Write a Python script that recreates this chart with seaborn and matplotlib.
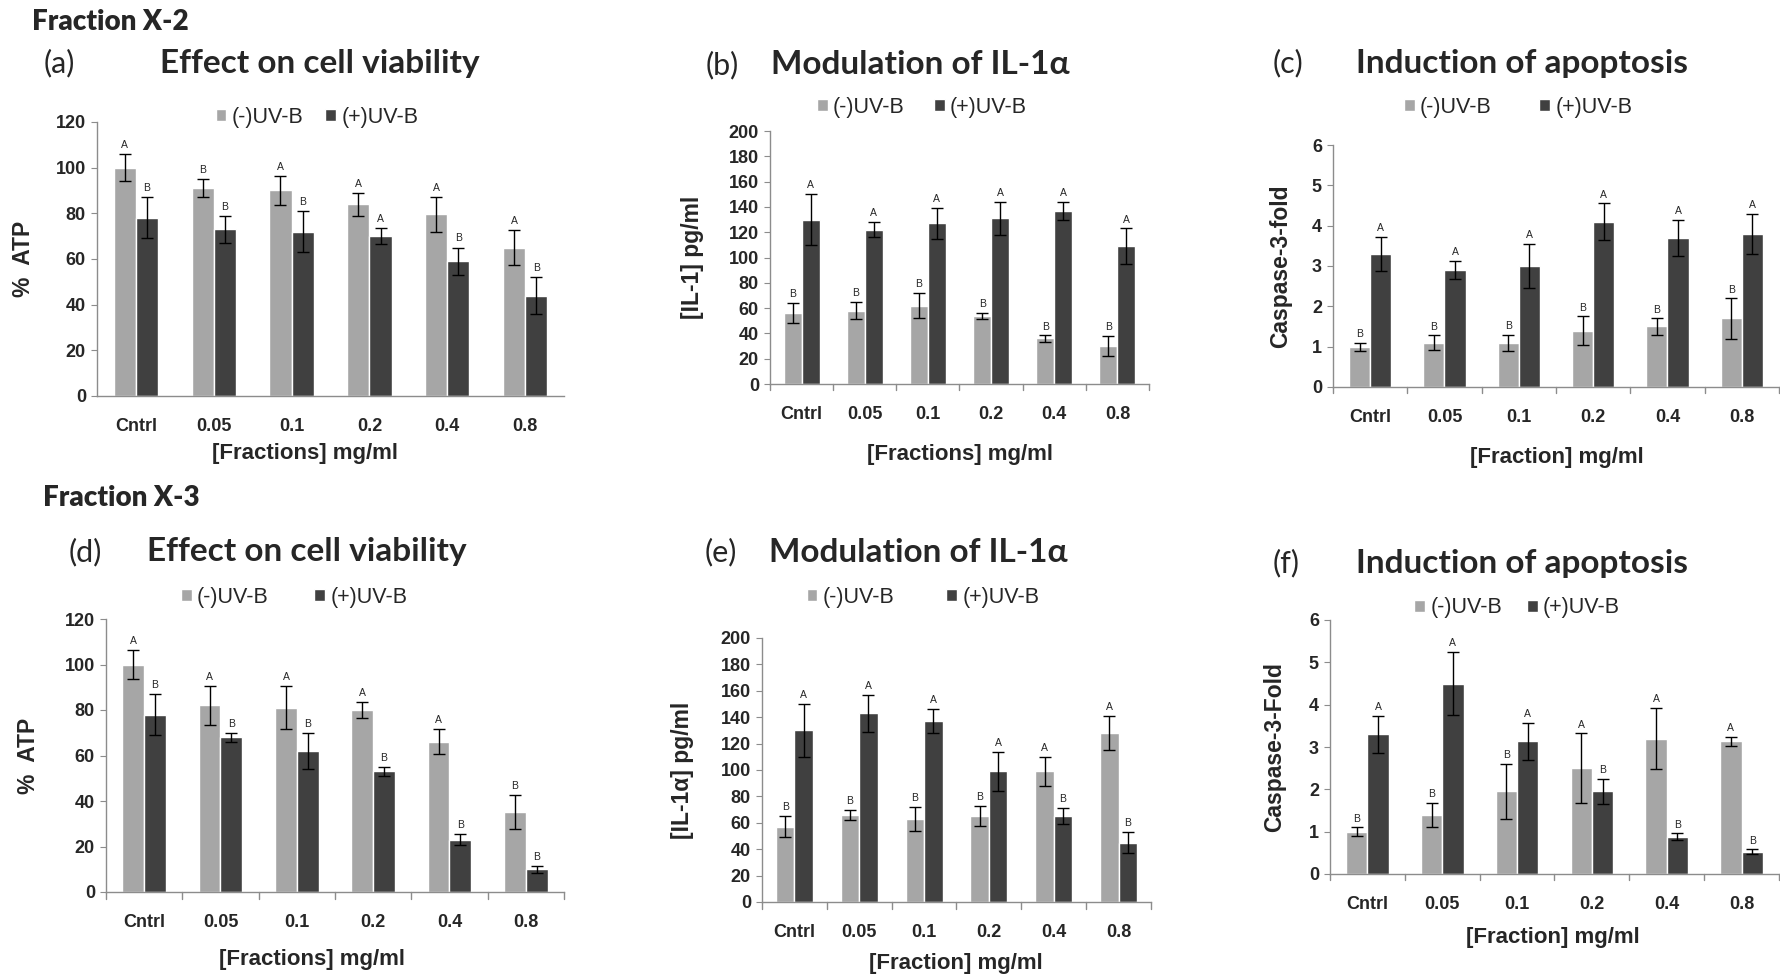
import numpy as np
import pandas as pd
import matplotlib
matplotlib.use('Agg')
import matplotlib.pyplot as plt
import seaborn as sns

sns.set_style('white')
plt.rcParams['font.family'] = ['Liberation Sans', 'DejaVu Sans']

# 浓度分组
conc_labels = ['Cntrl', '0.05', '0.1', '0.2', '0.4', '0.8']
groups = ['(-)UV-B', '(+)UV-B']

# (a) Fraction X-2 细胞活力
a_minus = [100, 91, 90, 84, 79.5, 65]
a_minus_err = [6, 4, 6.5, 5, 7.5, 7.5]
a_plus = [78, 73, 72, 70, 59, 44]
a_plus_err = [9, 6, 9, 3.5, 6, 8]
a_minus_sig = ['A', 'B', 'A', 'A', 'A', 'A']
a_plus_sig = ['B', 'B', 'B', 'A', 'B', 'B']

# (b) Fraction X-2 IL-1
b_minus = [56, 58, 62, 54, 36, 30]
b_minus_err = [8, 7, 10, 2.5, 2.5, 8]
b_plus = [130, 122, 127, 131, 137, 109]
b_plus_err = [20, 6, 12, 13, 7, 14]
b_minus_sig = ['B'] * 6
b_plus_sig = ['A'] * 6

# (c) Fraction X-2 caspase-3
c_minus = [1.0, 1.1, 1.1, 1.4, 1.5, 1.7]
c_minus_err = [0.1, 0.18, 0.2, 0.35, 0.2, 0.5]
c_plus = [3.3, 2.9, 3.0, 4.1, 3.7, 3.8]
c_plus_err = [0.43, 0.23, 0.55, 0.45, 0.45, 0.5]
c_minus_sig = ['B'] * 6
c_plus_sig = ['A'] * 6

# (d) Fraction X-3 细胞活力
d_minus = [100, 82, 81, 80, 66, 35]
d_minus_err = [6.5, 8.5, 9.5, 3.5, 5.5, 7.5]
d_plus = [78, 68, 62, 53, 23, 10]
d_plus_err = [9, 2, 8, 2, 2.5, 1.5]
d_minus_sig = ['A', 'A', 'A', 'A', 'A', 'B']
d_plus_sig = ['B'] * 6

# (e) Fraction X-3 IL-1α
e_minus = [57, 66, 63, 65, 99, 128]
e_minus_err = [8, 3.5, 9, 7.5, 11, 13]
e_plus = [130, 143, 137, 99, 65, 45]
e_plus_err = [20, 14, 9, 15, 6, 8]
e_minus_sig = ['B', 'B', 'B', 'B', 'A', 'A']
e_plus_sig = ['A', 'A', 'A', 'A', 'B', 'B']

# (f) Fraction X-3 caspase-3
f_minus = [1.0, 1.4, 1.95, 2.5, 3.2, 3.13]
f_minus_err = [0.1, 0.28, 0.65, 0.82, 0.73, 0.1]
f_plus = [3.3, 4.5, 3.13, 1.95, 0.88, 0.53]
f_plus_err = [0.43, 0.75, 0.43, 0.3, 0.08, 0.05]
f_minus_sig = ['B', 'B', 'B', 'A', 'A', 'A']
f_plus_sig = ['A', 'A', 'A', 'B', 'B', 'B']

W, H = 1781, 974
fig = plt.figure(figsize=(W / 100, H / 100), dpi=100)
light, dark = '#a6a6a6', '#404040'
title_font = ['Lato', 'DejaVu Sans']


def px(x, y):
    return x / W, 1 - y / H


panels = [
    dict(minus=a_minus, me=a_minus_err, plus=a_plus, pe=a_plus_err, ms=a_minus_sig, ps=a_plus_sig,
         box=(97, 564, 122, 396), ymax=120, step=20, title='Effect on cell viability', tag='(a)',
         ylab='%  ATP', xlab='[Fractions] mg/ml', tpos=(320, 63), tagpos=(59, 63), ylx=24,
         xlpos=(305, 453), leg=(317, 117), colsp=1.0, ticks=False),
    dict(minus=b_minus, me=b_minus_err, plus=b_plus, pe=b_plus_err, ms=b_minus_sig, ps=b_plus_sig,
         box=(770, 1149, 131, 384), ymax=200, step=20, title='Modulation of IL-1α', tag='(b)',
         ylab='[IL-1] pg/ml', xlab='[Fractions] mg/ml', tpos=(920, 65), tagpos=(722, 65), ylx=693,
         xlpos=(960, 454), leg=(922, 107), colsp=1.35, ticks=True),
    dict(minus=c_minus, me=c_minus_err, plus=c_plus, pe=c_plus_err, ms=c_minus_sig, ps=c_plus_sig,
         box=(1333, 1779, 145, 387), ymax=6, step=1, title='Induction of apoptosis', tag='(c)',
         ylab='Caspase-3-fold', xlab='[Fraction] mg/ml', tpos=(1522, 63), tagpos=(1288, 63), ylx=1281,
         xlpos=(1557, 458), leg=(1518, 107), colsp=2.2, ticks=True),
    dict(minus=d_minus, me=d_minus_err, plus=d_plus, pe=d_plus_err, ms=d_minus_sig, ps=d_plus_sig,
         box=(106, 564, 619, 892), ymax=120, step=20, title='Effect on cell viability', tag='(d)',
         ylab='%  ATP', xlab='[Fractions] mg/ml', tpos=(307, 552), tagpos=(85, 552), ylx=29,
         xlpos=(312, 960), leg=(294, 597), colsp=2.1, ticks=True),
    dict(minus=e_minus, me=e_minus_err, plus=e_plus, pe=e_plus_err, ms=e_minus_sig, ps=e_plus_sig,
         box=(762, 1151, 638, 902), ymax=200, step=20, title='Modulation of IL-1α', tag='(e)',
         ylab='[IL-1α] pg/ml', xlab='[Fraction] mg/ml', tpos=(918, 552), tagpos=(721, 552), ylx=683,
         xlpos=(956, 963), leg=(923, 597), colsp=2.4, ticks=True),
    dict(minus=f_minus, me=f_minus_err, plus=f_plus, pe=f_plus_err, ms=f_minus_sig, ps=f_plus_sig,
         box=(1330, 1779, 620, 874), ymax=6, step=1, title='Induction of apoptosis', tag='(f)',
         ylab='Caspase-3-Fold', xlab='[Fraction] mg/ml', tpos=(1522, 563), tagpos=(1286, 563), ylx=1275,
         xlpos=(1553, 938), leg=(1517, 608), colsp=1.15, ticks=True),
]

for p in panels:
    x0, x1, yt, yz = p['box']
    ax = fig.add_axes([x0 / W, 1 - yz / H, (x1 - x0) / W, (yz - yt) / H])
    df = pd.DataFrame({
        'conc': conc_labels * 2,
        'grp': [groups[0]] * 6 + [groups[1]] * 6,
        'val': p['minus'] + p['plus'],
    })
    sns.barplot(data=df, x='conc', y='val', hue='grp', palette=[light, dark], width=0.57,
                errorbar=None, saturation=1, ax=ax)
    # 误差线和显著性字母
    for cont, err, sig in zip(ax.containers, [p['me'], p['pe']], [p['ms'], p['ps']]):
        xs = [b.get_x() + b.get_width() / 2 for b in cont]
        hs = [b.get_height() for b in cont]
        ax.errorbar(xs, hs, yerr=err, fmt='none', ecolor='black', elinewidth=1, capsize=4, capthick=1)
        for x, h, e, s in zip(xs, hs, err, sig):
            ax.text(x, h + e + p['ymax'] * 0.015, s, ha='center', va='bottom', fontsize=7.5)
    ax.set_xlim(-0.5, 5.5)
    ax.set_ylim(0, p['ymax'])
    ax.set_yticks(np.arange(0, p['ymax'] + p['step'] / 2, p['step']))
    ax.set_xlabel('')
    ax.set_ylabel('')
    for s in ['top', 'right']:
        ax.spines[s].set_visible(False)
    for s in ['left', 'bottom']:
        ax.spines[s].set_color('#8c8c8c')
        ax.spines[s].set_linewidth(1)
    ax.tick_params(axis='y', left=True, length=4, color='#8c8c8c', labelsize=13, pad=4)
    ax.tick_params(axis='x', bottom=False, labelsize=13, pad=12)
    for lab in ax.get_xticklabels() + ax.get_yticklabels():
        lab.set_fontweight('bold')
    if p['ticks']:
        for b in np.arange(-0.5, 6, 1):
            ax.plot([b, b], [0, -p['ymax'] * 0.025], color='#8c8c8c', lw=1, clip_on=False)
    sns.move_legend(ax, loc='center', bbox_to_anchor=px(*p['leg']), bbox_transform=fig.transFigure,
                    ncol=2, frameon=False, title=None, fontsize=15.5, handlelength=0.5,
                    handleheight=0.5, handletextpad=0.25, columnspacing=p['colsp'])
    fig.text(*px(*p['tpos']), p['title'], ha='center', va='center', fontsize=24,
             fontweight='bold', family=title_font)
    fig.text(*px(*p['tagpos']), p['tag'], ha='center', va='center', fontsize=22, family=title_font)
    fig.text(*px(p['ylx'], (yt + yz) / 2), p['ylab'], rotation=90, ha='center', va='center',
             fontsize=16.5, fontweight='bold')
    fig.text(*px(*p['xlpos']), p['xlab'], ha='center', va='center',
             fontsize=16, fontweight='bold')

fig.text(*px(32, 22), 'Fraction X-2', ha='left', va='center', fontsize=20, fontweight='heavy',
         family=title_font)
fig.text(*px(43, 498), 'Fraction X-3', ha='left', va='center', fontsize=20, fontweight='heavy',
         family=title_font)

fig.savefig('out.png', dpi=100, facecolor='white')
